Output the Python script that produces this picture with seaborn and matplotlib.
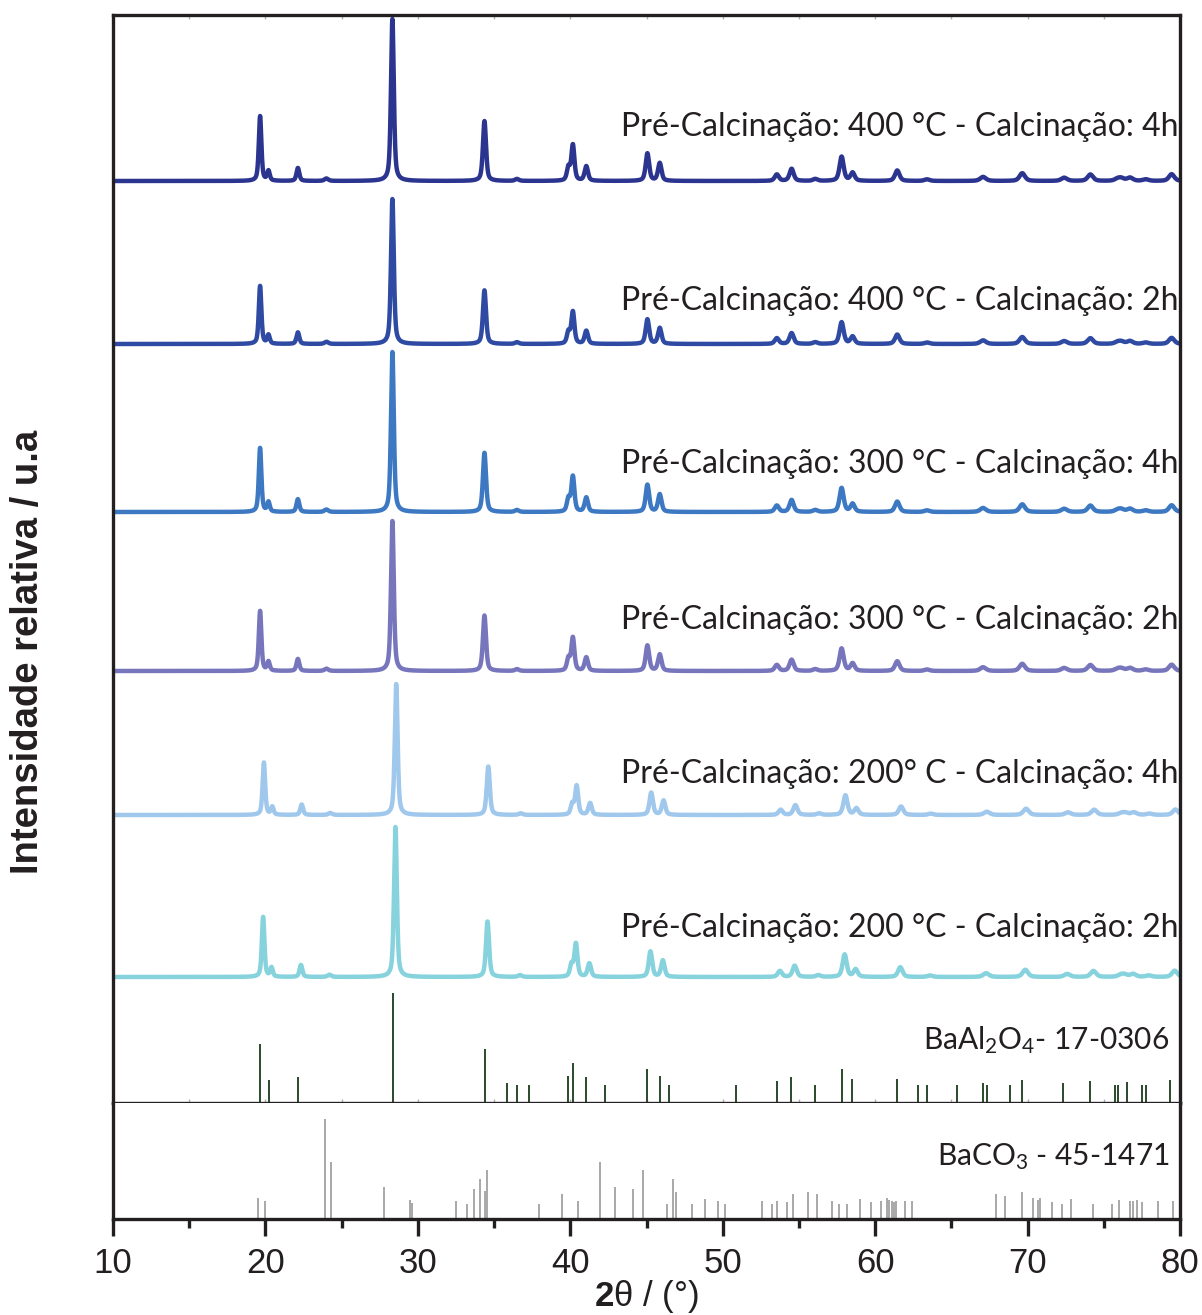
import numpy as np
import pandas as pd
import matplotlib
matplotlib.use("Agg")
import matplotlib.pyplot as plt
from matplotlib.ticker import MultipleLocator
import seaborn as sns

# ---------------------------------------------------------------------------
# Data
# ---------------------------------------------------------------------------
# BaAl2O4 reflections observed in the measured diffractograms
# (2θ in degrees, intensity relative to the strongest line, FWHM in degrees)
peak_pos = [19.65, 20.20, 22.13, 24.00, 28.33, 34.37, 36.50, 39.88, 40.17,
            41.05, 45.06, 45.87, 53.55, 54.52, 56.07, 57.80, 58.52, 61.45,
            63.40, 67.08, 69.65, 72.40, 74.12, 75.90, 76.15, 76.72, 77.75,
            79.45]
peak_rel = [40, 6, 8, 1.5, 100, 37, 1.2, 8, 22,
            9, 17, 11, 4, 7.5, 1.2, 15, 5, 6.5,
            1, 2.5, 4.8, 2, 4, 1.2, 1.5, 2, 1,
            4.2]
peak_fwhm = [0.20, 0.20, 0.22, 0.30, 0.22, 0.24, 0.30, 0.24, 0.24,
             0.26, 0.27, 0.27, 0.32, 0.32, 0.35, 0.32, 0.32, 0.35,
             0.40, 0.45, 0.42, 0.45, 0.42, 0.45, 0.45, 0.45, 0.45,
             0.42]

# Samples: label, strongest-line intensity (a.u.) and 2θ displacement
sample_labels = [
    "Pré-Calcinação: 400 °C - Calcinação: 4h",
    "Pré-Calcinação: 400 °C - Calcinação: 2h",
    "Pré-Calcinação: 300 °C - Calcinação: 4h",
    "Pré-Calcinação: 300 °C - Calcinação: 2h",
    "Pré-Calcinação: 200° C - Calcinação: 4h",
    "Pré-Calcinação: 200 °C - Calcinação: 2h",
]
sample_max = [162, 145, 160, 150, 131, 150]
sample_shift = [0.0, 0.0, 0.0, 0.0, 0.25, 0.20]

# Reference card BaAl2O4 17-0306
baal_pos = [19.67, 20.22, 22.15, 28.36, 34.38, 35.85, 36.50, 37.30, 39.88,
            40.18, 41.06, 42.30, 45.06, 45.87, 46.50, 50.90, 53.55, 54.50,
            56.07, 57.80, 58.50, 61.46, 62.84, 63.37, 65.36, 67.05, 67.33,
            68.84, 69.62, 72.30, 74.08, 75.74, 75.94, 76.50, 77.50, 77.78,
            79.34]
baal_rel = [54, 21, 24, 100, 49, 18, 16, 16, 25,
            36, 24, 16, 31, 25, 16, 16, 20, 24,
            16, 31, 22, 22, 16, 16, 16, 18, 16,
            16, 21, 18, 20, 16, 16, 19, 16, 16,
            21]

# Reference card BaCO3 45-1471
baco_pos = [19.48, 19.96, 23.92, 24.31, 27.75, 29.50, 29.61, 32.52, 33.22,
            33.70, 34.07, 34.38, 34.55, 37.95, 39.44, 40.49, 41.93, 42.92,
            44.10, 44.80, 46.35, 46.73, 46.93, 47.96, 48.84, 49.67, 50.13,
            52.57, 53.25, 53.55, 54.20, 54.58, 55.57, 56.20, 57.15, 57.66,
            58.14, 59.02, 59.72, 60.40, 60.76, 60.90, 61.08, 61.23, 61.39,
            61.94, 62.39, 67.96, 68.49, 69.62, 70.33, 70.71, 70.83, 71.61,
            72.29, 72.82, 74.31, 75.52, 76.02, 76.75, 76.90, 77.15, 77.53,
            78.54, 79.57]
baco_rel = [21, 18, 100, 57, 32, 19, 16, 18, 15,
            30, 40, 28, 49, 15, 25, 18, 57, 32,
            30, 49, 15, 40, 27, 15, 20, 18, 15,
            18, 15, 18, 17, 25, 27, 25, 18, 15,
            15, 20, 17, 18, 21, 19, 18, 17, 18,
            18, 18, 25, 23, 27, 21, 19, 21, 17,
            15, 20, 15, 15, 19, 18, 18, 19, 17,
            18, 18]

# ---------------------------------------------------------------------------
# Styling / layout
# ---------------------------------------------------------------------------
sample_colors = ["#2b3590", "#2e4aa2", "#3d78c2", "#7776bd", "#9fc8ec", "#86d2dd"]
trace_offset = [922, 759, 591, 432, 288, 126]
label_y = [967, 793, 630, 474, 320, 166]
ink = "#231f20"

sns.set_theme(style="white")
plt.rcParams["font.family"] = ["Liberation Sans", "DejaVu Sans"]
plt.rcParams["mathtext.fontset"] = "custom"
plt.rcParams["mathtext.rm"] = "Lato"
plt.rcParams["mathtext.it"] = "Lato:italic"
plt.rcParams["mathtext.bf"] = "Liberation Sans:bold"

fig = plt.figure(figsize=(12.02, 13.15), dpi=100)
W, H = 1202, 1315
x0, x1 = 113, 1180
ax = fig.add_axes([x0 / W, 1 - 1103 / H, (x1 - x0) / W, (1103 - 15) / H])
axb = fig.add_axes([x0 / W, 1 - 1219 / H, (x1 - x0) / W, (1219 - 1103) / H])


def profile(x, centre, fwhm, eta=0.55):
    """Pseudo-Voigt line of unit height."""
    d = (x - centre) / fwhm
    lor = 1.0 / (1.0 + 4.0 * d * d)
    gau = np.exp(-4.0 * np.log(2.0) * d * d)
    return eta * lor + (1 - eta) * gau


tt = np.arange(10.0, 80.0001, 0.01)
frames = []
for label, imax, shift, off in zip(sample_labels, sample_max, sample_shift, trace_offset):
    y = np.zeros_like(tt)
    for p, r, w in zip(peak_pos, peak_rel, peak_fwhm):
        y += r / 100.0 * profile(tt, p + shift, w)
    y = y / y.max() * imax
    frames.append(pd.DataFrame({"two_theta": tt, "intensity": y + off, "sample": label}))
df = pd.concat(frames, ignore_index=True)

sns.lineplot(data=df, x="two_theta", y="intensity", hue="sample",
             palette=dict(zip(sample_labels, sample_colors)), legend=False,
             estimator=None, sort=False, linewidth=3.2, ax=ax)

# reference sticks
ax.vlines(baal_pos, 0, np.array(baal_rel) * 1.10, color="#2a4a2a", linewidth=1.4)
axb.vlines(baco_pos, 0, baco_rel, color="#9a9a9a", linewidth=1.2)

label_font = ["Lato", "DejaVu Sans"]
for lab, ly in zip(sample_labels, label_y):
    ax.text(79.9, ly, lab, ha="right", va="baseline", fontsize=23,
            family=label_font, color=ink)
ax.text(79.3, 54, r"BaAl$_2$O$_4$- 17-0306", ha="right", va="baseline",
        fontsize=21.5, family=label_font, color=ink)
axb.text(79.35, 54, r"BaCO$_3$ - 45-1471", ha="right", va="baseline",
         fontsize=21.5, family=label_font, color=ink)

# axes cosmetics
for a in (ax, axb):
    a.set_xlim(10, 80)
    a.set_yticks([])
    a.set_ylabel("")
    a.set_xlabel("")
    for s in a.spines.values():
        s.set_color(ink)
        s.set_linewidth(2.4)
ax.set_ylim(0, 1088)
axb.set_ylim(0, 116)
axb.spines["top"].set_visible(False)

ax.xaxis.set_major_locator(MultipleLocator(5))
ax.tick_params(axis="x", which="both", direction="in", length=3, width=1,
               color="#b0b0b0", top=True, bottom=True, labelbottom=False)

axb.xaxis.set_major_locator(MultipleLocator(10))
axb.xaxis.set_minor_locator(MultipleLocator(5))
axb.tick_params(axis="x", which="major", direction="out", length=12, width=2.4,
                color=ink, labelsize=25, labelcolor=ink, pad=8, bottom=True)
axb.tick_params(axis="x", which="minor", direction="out", length=6.5, width=2.4,
                color=ink, bottom=True)

fig.text(28 / W, 1 - 652 / H, "Intensidade relativa / u.a", rotation=90,
         ha="center", va="center", fontsize=27.5, fontweight="bold", color=ink)
fig.text(646 / W, 1 - 1306 / H, r"$\mathbf{2}$θ / (°)", ha="center",
         va="baseline", fontsize=25, color=ink)

fig.savefig("out.png", dpi=100, facecolor="white")
